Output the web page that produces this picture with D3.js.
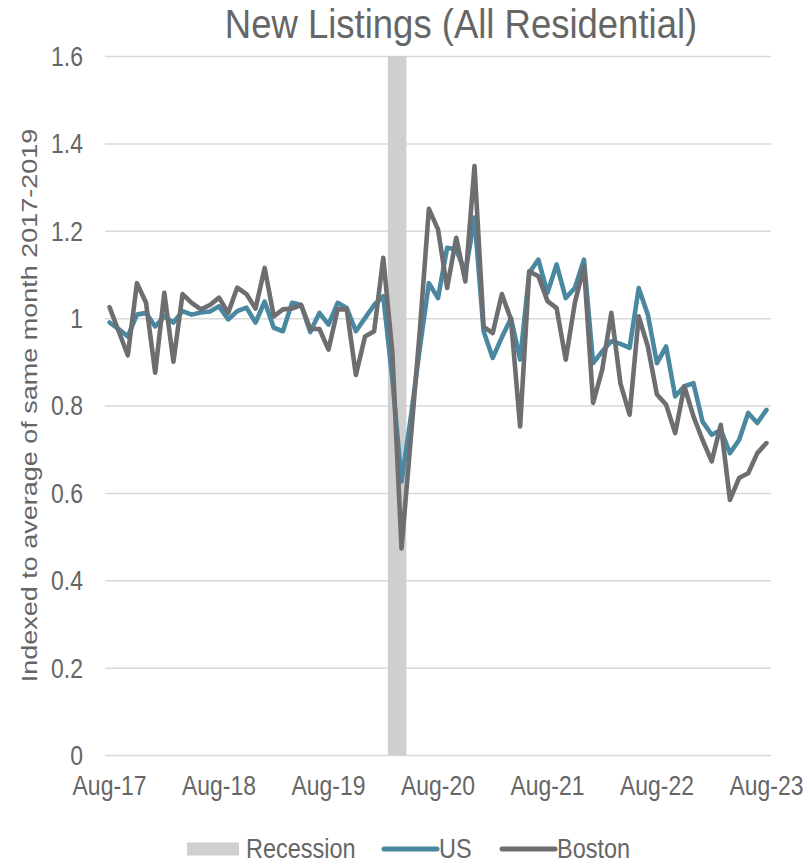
<!DOCTYPE html>
<html>
<head>
<meta charset="utf-8">
<script src="https://cdn.jsdelivr.net/npm/d3@7"></script>
<style>
  html, body { margin: 0; padding: 0; background: #fff; }
  svg { display: block; font-family: "Liberation Sans", Arial, sans-serif; }
</style>
</head>
<body>
<div id="chart"></div>
<script>
// monthly categories Aug-17 .. Aug-23
const fmt = d3.timeFormat('%b-%y');
const months = d3.timeMonths(new Date(2017, 7, 1), new Date(2023, 8, 1)).map(fmt);
const tickLabels = ['Aug-17', 'Aug-18', 'Aug-19', 'Aug-20', 'Aug-21', 'Aug-22', 'Aug-23'];
const recessionMonths = ['Mar-20', 'Apr-20'];
const yTicks = [0, 0.2, 0.4, 0.6, 0.8, 1, 1.2, 1.4, 1.6];

const usValues = [
  0.99, 0.975, 0.958, 1.008, 1.012, 0.981, 1.004, 0.99, 1.016, 1.008, 1.013, 1.015,
  1.027, 0.997, 1.016, 1.024, 0.99, 1.038, 0.978, 0.97, 1.035, 1.03, 0.968, 1.012,
  0.985, 1.035, 1.023, 0.97, 1.0, 1.03, 1.05, 0.86, 0.626, 0.77, 0.93, 1.08,
  1.046, 1.161, 1.157, 1.104, 1.23, 0.97, 0.909, 0.956, 1.0, 0.905, 1.104, 1.134,
  1.058, 1.123, 1.046, 1.069, 1.134, 0.897, 0.924, 0.947, 0.941, 0.932, 1.069, 1.008,
  0.897, 0.935, 0.821, 0.844, 0.851, 0.763, 0.733, 0.744, 0.691, 0.721, 0.783, 0.76,
  0.79
];
const bostonValues = [
  1.025, 0.97, 0.915, 1.08, 1.035, 0.875, 1.058, 0.9, 1.055, 1.035, 1.02, 1.03,
  1.047, 1.012, 1.07, 1.055, 1.022, 1.115, 1.004, 1.02, 1.022, 1.03, 0.975, 0.975,
  0.928, 1.02, 1.02, 0.87, 0.958, 0.97, 1.138, 0.92, 0.473, 0.72, 0.97, 1.25,
  1.203, 1.069, 1.184, 1.084, 1.348, 0.98, 0.966, 1.055, 0.997, 0.752, 1.107, 1.096,
  1.039, 1.023, 0.905, 1.035, 1.119, 0.806, 0.882, 1.012, 0.85, 0.779, 1.004, 0.935,
  0.825, 0.802, 0.737, 0.844, 0.775, 0.721, 0.672, 0.756, 0.584, 0.634, 0.645, 0.691,
  0.714
];

const width = 807;
const height = 864;
const margin = { top: 56, right: 36, bottom: 109, left: 105 };
const textColor = '#666666';
const sx = 0.85; // text in the picture is a little narrow

const series = [
  { name: 'US', values: usValues, color: '#4a88a2' },
  { name: 'Boston', values: bostonValues, color: '#6d6e71' }
];

const svg = d3.select('#chart')
  .append('svg')
  .attr('width', width)
  .attr('height', height);

const x = d3.scaleBand()
  .domain(months)
  .range([margin.left, width - margin.right])
  .paddingInner(0)
  .paddingOuter(0);
const bw = x.bandwidth();
const xc = m => x(m) + bw / 2;

const y = d3.scaleLinear()
  .domain([0, 1.6])
  .range([height - margin.bottom, margin.top]);

// gridlines + y labels
const yAxis = d3.axisLeft(y)
  .tickValues(yTicks)
  .tickSize(-(width - margin.left - margin.right))
  .tickPadding(0)
  .tickFormat(d => String(+d.toFixed(1)));

const gy = svg.append('g')
  .attr('transform', `translate(${margin.left},0)`)
  .call(yAxis);
gy.select('.domain').remove();
gy.selectAll('.tick line')
  .attr('stroke', '#d9d9d9')
  .attr('stroke-width', 1.5);
gy.selectAll('.tick text')
  .attr('x', -22 / sx)
  .attr('dy', '0.35em')
  .attr('transform', `scale(${sx},1)`)
  .attr('fill', textColor)
  .style('font-size', '27px');

// recession shading
svg.append('g')
  .selectAll('rect')
  .data(recessionMonths)
  .join('rect')
  .attr('x', d => x(d))
  .attr('width', bw + 0.3)
  .attr('y', y(1.6))
  .attr('height', y(0) - y(1.6))
  .attr('fill', '#cfcfcf');

// lines
const line = d3.line()
  .x((d, i) => xc(months[i]))
  .y(d => y(d));

svg.append('g')
  .selectAll('path')
  .data(series)
  .join('path')
  .attr('d', d => line(d.values))
  .attr('fill', 'none')
  .attr('stroke', d => d.color)
  .attr('stroke-width', 4.6)
  .attr('stroke-linejoin', 'round')
  .attr('stroke-linecap', 'round');

// x axis labels
const xAxis = d3.axisBottom(x)
  .tickValues(tickLabels)
  .tickSize(0)
  .tickPadding(0);
const gx = svg.append('g')
  .attr('transform', `translate(0,${y(0)})`)
  .call(xAxis);
gx.select('.domain').remove();
gx.selectAll('.tick text')
  .attr('y', 40)
  .attr('dy', 0)
  .attr('transform', `scale(${sx},1)`)
  .attr('fill', textColor)
  .style('font-size', '27px');

// title
svg.append('text')
  .attr('transform', `translate(461,38) scale(0.89,1)`)
  .attr('text-anchor', 'middle')
  .attr('fill', textColor)
  .style('font-size', '41px')
  .text('New Listings (All Residential)');

// y axis title
svg.append('text')
  .attr('transform', `translate(37,${(y(0) + y(1.6)) / 2}) rotate(-90) scale(1,${sx})`)
  .attr('text-anchor', 'middle')
  .attr('fill', textColor)
  .style('font-size', '27px')
  .text('Indexed to average of same month 2017-2019');

// legend
const legendItems = [
  { name: 'Recession', type: 'rect', color: '#cfcfcf', x: 187 },
  { name: 'US', type: 'line', color: '#4a88a2', x: 382 },
  { name: 'Boston', type: 'line', color: '#6d6e71', x: 500 }
];
const lg = svg.append('g').attr('transform', 'translate(0,849)');
legendItems.forEach(it => {
  if (it.type === 'rect') {
    lg.append('rect')
      .attr('x', it.x).attr('y', -6.5)
      .attr('width', 52).attr('height', 13)
      .attr('fill', it.color);
  } else {
    lg.append('line')
      .attr('x1', it.x + 2).attr('x2', it.x + 55)
      .attr('y1', 0).attr('y2', 0)
      .attr('stroke', it.color)
      .attr('stroke-width', 5)
      .attr('stroke-linecap', 'round');
  }
  lg.append('text')
    .attr('transform', `translate(${it.x + (it.type === 'rect' ? 59 : 57)},9) scale(0.87,1)`)
    .attr('fill', textColor)
    .style('font-size', '27px')
    .text(it.name);
});
</script>
</body>
</html>
